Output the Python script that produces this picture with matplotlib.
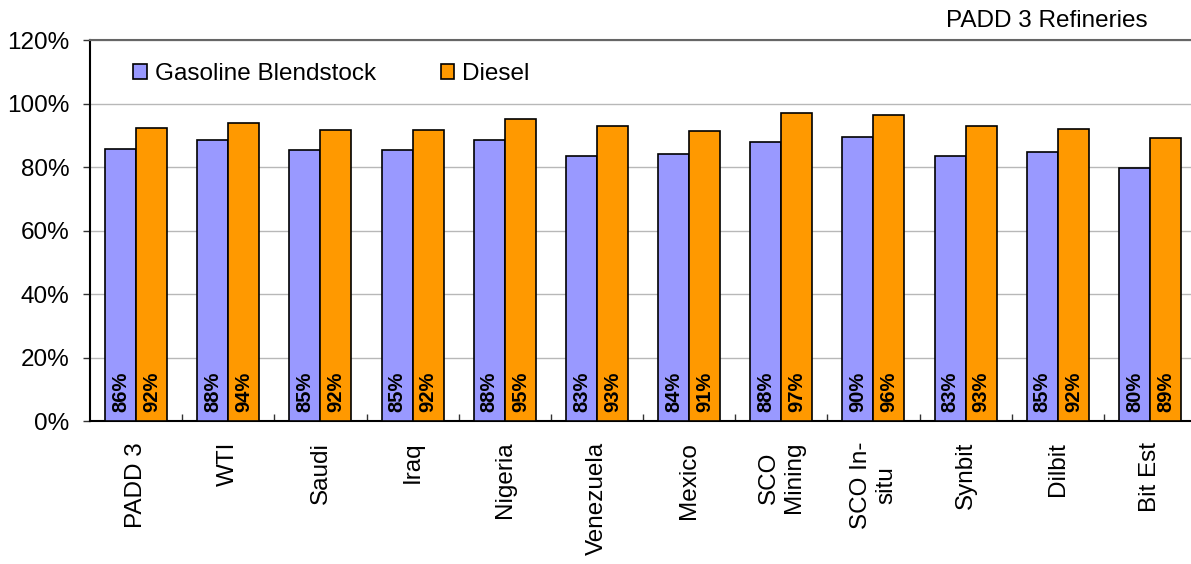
import matplotlib
matplotlib.use("Agg")
import matplotlib.pyplot as plt
import numpy as np
from matplotlib.patches import Patch

plt.rcParams['font.family'] = ['Liberation Sans', 'DejaVu Sans']

categories = ["PADD 3", "WTI", "Saudi", "Iraq", "Nigeria", "Venezuela", "Mexico",
              "SCO\nMining", "SCO In-\nsitu", "Synbit", "Dilbit", "Bit Est"]
gasoline = [85.6, 88.4, 85.3, 85.3, 88.4, 83.4, 84.1, 87.8, 89.6, 83.4, 84.8, 79.8]
diesel = [92.2, 94.0, 91.7, 91.8, 95.2, 92.8, 91.4, 97.0, 96.4, 92.8, 92.1, 89.2]
yticks = [0, 20, 40, 60, 80, 100, 120]
series_names = ["Gasoline Blendstock", "Diesel"]
title_text = "PADD 3 Refineries"

blue = "#9999FF"
orange = "#FF9900"

fig = plt.figure(figsize=(11.91, 5.64), dpi=100)
ax = fig.add_axes([90 / 1191, 1 - 421 / 564, 1106 / 1191, 381 / 564])

x = np.arange(len(categories))
w = 0.337
bars_g = ax.bar(x - w / 2, gasoline, w, color=blue, edgecolor="black", linewidth=1.2, zorder=3)
bars_d = ax.bar(x + w / 2, diesel, w, color=orange, edgecolor="black", linewidth=1.2, zorder=3)

for bars, vals in ((bars_g, gasoline), (bars_d, diesel)):
    for b, v in zip(bars, vals):
        ax.text(b.get_x() + b.get_width() / 2, 2.8, f"{v:.0f}%", rotation=90,
                ha="center", va="bottom", fontsize=14.5, fontweight="bold", zorder=4)

ax.set_xlim(-0.5, len(categories) - 0.5)
ax.set_ylim(0, 120)
ax.set_yticks(yticks)
ax.set_yticklabels([f"{t}%" for t in yticks], fontsize=17.5)
ax.yaxis.grid(True, color="#b8b8b8", linewidth=1.0, zorder=0)
ax.set_axisbelow(True)

ax.set_xticks(x)
ax.set_xticklabels(categories, rotation=90, fontsize=17.5, ha="center", va="top",
                   multialignment="center")
ax.tick_params(axis="x", which="major", length=0, pad=15)
ax.set_xticks(np.arange(0.5, len(categories) - 0.5, 1), minor=True)
ax.tick_params(axis="x", which="minor", direction="in", length=5, width=1.0, color="#333333")
ax.tick_params(axis="y", direction="out", length=5, width=1.0, pad=10, color="#333333")

for s in ("left", "bottom"):
    ax.spines[s].set_color("black")
    ax.spines[s].set_linewidth(1.5)
ax.spines["top"].set_color("#666666")
ax.spines["top"].set_linewidth(1.5)
ax.spines["right"].set_visible(False)

handles = [Patch(facecolor=blue, edgecolor="black", linewidth=1.2),
           Patch(facecolor=orange, edgecolor="black", linewidth=1.2)]
ax.legend(handles, series_names, loc="center left", bbox_to_anchor=(0.039, 0.911),
          ncol=2, frameon=False, fontsize=17.5, borderpad=0, borderaxespad=0,
          handlelength=0.55, handleheight=0.55, handletextpad=0.35, columnspacing=2.65)

fig.text(1148 / 1191, 1 - 21 / 564, title_text, ha="right", va="center", fontsize=17.5)

fig.savefig("out.png", dpi=100)
